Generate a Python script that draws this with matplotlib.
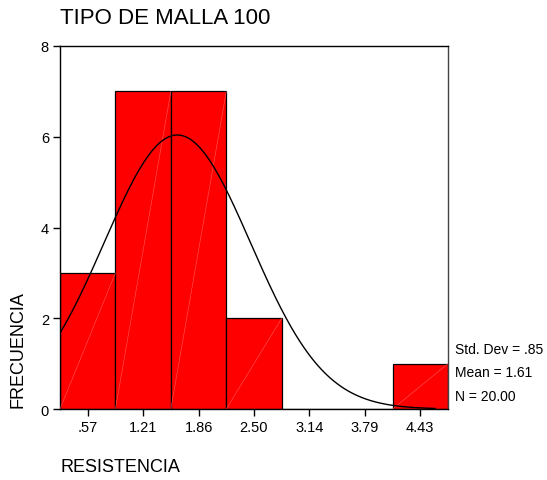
import numpy as np
import matplotlib
matplotlib.use("Agg")
import matplotlib.pyplot as plt

plt.rcParams['font.family'] = ['Liberation Sans', 'DejaVu Sans']

# Datos del histograma
frecuencias = [3, 7, 7, 2, 0, 0, 1]
etiquetas_x = [".57", "1.21", "1.86", "2.50", "3.14", "3.79", "4.43"]
inicio_bin = 0.2485
ancho_bin = 0.6433
media = 1.61
desv = 0.85
n = 20
fin_curva = 4.6

fig = plt.figure(figsize=(5.47, 4.81), dpi=100)
ax = fig.add_axes([60 / 547, 1 - 410 / 481, 388 / 547, 363 / 481])

bordes = inicio_bin + ancho_bin * np.arange(len(frecuencias))
centros = bordes + ancho_bin / 2
ax.bar(bordes, frecuencias, width=ancho_bin, align='edge', color='#ff0000',
       edgecolor='black', linewidth=0.9, zorder=2)

# lineas diagonales claras dentro de las barras (artefacto del original)
for b, f in zip(bordes, frecuencias):
    if f > 0:
        ax.plot([b, b + ancho_bin], [0, f], color='#ff5a5a', lw=0.4, zorder=3)

# curva normal
xs = np.linspace(inicio_bin, fin_curva, 300)
ys = n * ancho_bin / (desv * np.sqrt(2 * np.pi)) * np.exp(-0.5 * ((xs - media) / desv) ** 2)
ax.plot(xs, ys, color='black', lw=1.0, zorder=4)

ax.set_xlim(inicio_bin, inicio_bin + ancho_bin * len(frecuencias))
ax.set_ylim(0, 8)
ax.set_yticks([0, 2, 4, 6, 8])
ax.set_xticks(centros)
ax.set_xticklabels(etiquetas_x)
ax.tick_params(axis='both', labelsize=10.5, length=5, width=1, direction='out')
ax.tick_params(axis='x', pad=3)
ax.tick_params(axis='y', pad=3)
for s in ax.spines.values():
    s.set_linewidth(1)
ax.spines['right'].set_color('#444444')

fig.text(60 / 547, 1 - 18 / 481, "TIPO DE MALLA 100", fontsize=16, va='center', ha='left')
fig.text(60 / 547, 1 - 468 / 481, "RESISTENCIA", fontsize=13, va='center', ha='left')
fig.text(18 / 547, 1 - 350 / 481, "FRECUENCIA", fontsize=13, va='center', ha='center',
         rotation=90)

estad = ["Std. Dev = .85", "Mean = 1.61", "N = 20.00"]
for i, t in enumerate(estad):
    fig.text(455 / 547, 1 - (350 + 23.5 * i) / 481, t, fontsize=10, va='center', ha='left')

fig.savefig("out.png", dpi=100)
